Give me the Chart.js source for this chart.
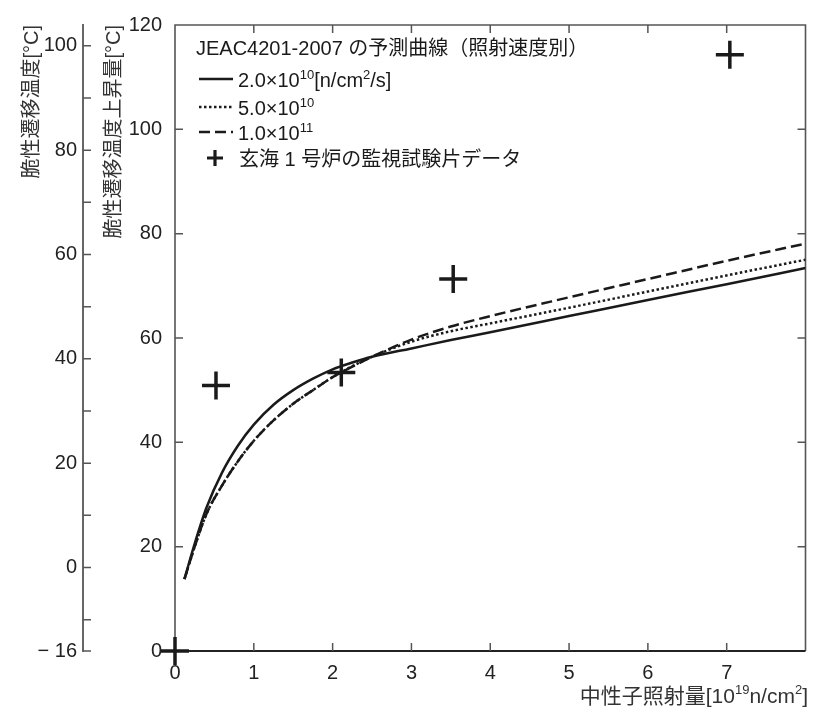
<!DOCTYPE html>
<html><head><meta charset="utf-8">
<script src="https://cdn.jsdelivr.net/npm/chart.js@4.4.1/dist/chart.umd.min.js"></script>
<style>html,body{margin:0;padding:0;background:#fff}#wrap{width:823px;height:715px}</style>
</head><body><div id="wrap"><canvas id="c" width="823" height="715"></canvas></div>
<script>
// ---- data ----
const fluenceCurve = [0.12,0.25,0.4,0.6,0.8,1.0,1.25,1.5,1.75,2.0,2.25,2.5,3.0,3.5,4,5,6,7,8];
const rise2e10 = [13.8,20.6,27.5,34.3,39.4,43.4,47.2,50.0,52.2,54.0,55.3,56.4,58.0,59.6,61.1,64.2,67.3,70.3,73.4];
const rise5e10 = [13.8,20.0,26.3,31.8,36.4,40.3,44.2,47.4,50.0,52.5,54.6,56.4,59.3,61.3,62.8,65.8,68.9,72.0,75.0];
const rise1e11 = [13.8,20.0,26.3,31.8,36.4,40.3,44.2,47.4,50.0,52.5,54.5,56.4,59.7,62.2,64.2,67.8,71.3,74.8,78.1];
const genkaiFluence = [0, 0.52, 2.11, 3.53, 7.04];
const genkaiRise = [0, 50.9, 53.4, 71.3, 114.3];
const xTicks = [0,1,2,3,4,5,6,7,8];
const xLabels = ['0','1','2','3','4','5','6','7',''];
const riseTicks = [0,20,40,60,80,100,120];
const tempTicks = [-16,-10,0,10,20,30,40,50,60,70,80,90,100];
const tempLabels = ['\u2212 16','','0','','20','','40','','60','','80','','100'];

const FONT = '"Liberation Sans", "Noto Sans CJK JP", sans-serif';
const INK = '#1a1a1a';
const pts = (xs, ys) => xs.map((x, i) => ({x: x, y: ys[i]}));

function drawRich(ctx, x, y, parts, size) {
  for (const p of parts) {
    const s = p.sup ? Math.round(size * 0.64) : size;
    ctx.font = s + 'px ' + FONT;
    ctx.fillText(p.t, x, p.sup ? y - size * 0.42 : y);
    x += ctx.measureText(p.t).width;
  }
  return x;
}
function richWidth(ctx, parts, size) {
  let w = 0;
  for (const p of parts) {
    const s = p.sup ? Math.round(size * 0.64) : size;
    ctx.font = s + 'px ' + FONT;
    w += ctx.measureText(p.t).width;
  }
  return w;
}

const decor = {
  id: 'decor',
  beforeDatasetsDraw(chart) {
    const ctx = chart.ctx, a = chart.chartArea;
    const sx = chart.scales.x, sy = chart.scales.y, st = chart.scales.yTemp;
    ctx.save();
    ctx.lineCap = 'butt';
    ctx.strokeStyle = '#555'; ctx.lineWidth = 1.6;
    ctx.beginPath();
    ctx.moveTo(a.left, a.bottom); ctx.lineTo(a.left, a.top); ctx.lineTo(a.right, a.top); ctx.lineTo(a.right, a.bottom);
    ctx.stroke();
    ctx.strokeStyle = '#222'; ctx.lineWidth = 2;
    ctx.beginPath(); ctx.moveTo(a.left, a.bottom); ctx.lineTo(a.right, a.bottom); ctx.stroke();
    ctx.strokeStyle = '#555'; ctx.lineWidth = 1.5;
    ctx.beginPath();
    for (const t of sy.ticks) {
      if (t.value === 0 || t.value === 120) continue;
      const y = sy.getPixelForValue(t.value);
      ctx.moveTo(a.left, y); ctx.lineTo(a.left + 8, y);
      ctx.moveTo(a.right, y); ctx.lineTo(a.right - 8, y);
    }
    for (const t of sx.ticks) {
      if (t.value === 0 || t.value === 8) continue;
      const x = sx.getPixelForValue(t.value);
      ctx.moveTo(x, a.bottom); ctx.lineTo(x, a.bottom - 8);
      ctx.moveTo(x, a.top); ctx.lineTo(x, a.top + 8);
    }
    for (const t of st.ticks) {
      const y = st.getPixelForValue(t.value);
      ctx.moveTo(st.right, y); ctx.lineTo(st.right + 8, y);
    }
    ctx.stroke();
    ctx.restore();
  },
  afterDraw(chart) {
    const ctx = chart.ctx;
    ctx.save();
    ctx.fillStyle = INK;
    ctx.textAlign = 'left';
    ctx.textBaseline = 'alphabetic';
    const size = 20;
    ctx.font = size + 'px ' + FONT;
    ctx.fillText('JEAC4201-2007 の予測曲線（照射速度別）', 196, 55);
    ctx.strokeStyle = INK; ctx.lineWidth = 2.5;
    const sample = (y, dash) => {
      ctx.setLineDash(dash);
      ctx.beginPath(); ctx.moveTo(199, y); ctx.lineTo(233, y); ctx.stroke();
    };
    sample(79, []);
    sample(107, [2.5, 2.5]);
    sample(132, [11, 5]);
    ctx.setLineDash([]);
    drawRich(ctx, 238, 87, [{t:'2.0×10'},{t:'10',sup:true},{t:'[n/cm'},{t:'2',sup:true},{t:'/s]'}], size);
    drawRich(ctx, 238, 115, [{t:'5.0×10'},{t:'10',sup:true}], size);
    drawRich(ctx, 238, 140, [{t:'1.0×10'},{t:'11',sup:true}], size);
    ctx.lineWidth = 3.2;
    ctx.beginPath();
    ctx.moveTo(207, 158); ctx.lineTo(223, 158);
    ctx.moveTo(215, 150); ctx.lineTo(215, 166);
    ctx.stroke();
    ctx.font = size + 'px ' + FONT;
    ctx.fillText('玄海 1 号炉の監視試験片データ', 239, 166);
    const xt = [{t:'中性子照射量[10'},{t:'19',sup:true},{t:'n/cm'},{t:'2',sup:true},{t:']'}];
    ctx.fillStyle = '#333';
    const w = richWidth(ctx, xt, 21);
    drawRich(ctx, 808 - w, 703, xt, 21);
    ctx.restore();
  }
};

const tickFont = {size: 20, family: FONT};
const curve = (label, ys, dash) => ({label: label, data: pts(fluenceCurve, ys), yAxisID: 'y', xAxisID: 'x',
  borderColor: INK, borderWidth: 2.5, borderDash: dash, pointRadius: 0, cubicInterpolationMode: 'monotone', fill: false});
new Chart(document.getElementById('c'), {
  type: 'line',
  data: {
    datasets: [
      curve('2.0e10', rise2e10, []),
      curve('5.0e10', rise5e10, [2.5, 2.5]),
      curve('1.0e11', rise1e11, [11, 5]),
      {label: 'genkai', data: pts(genkaiFluence, genkaiRise), yAxisID: 'y', xAxisID: 'x', showLine: false,
       pointStyle: 'cross', pointRadius: 14, pointBorderWidth: 3.5, borderColor: INK, backgroundColor: INK, clip: false}
    ]
  },
  options: {
    responsive: false,
    devicePixelRatio: 1,
    animation: false,
    layout: {padding: {top: 17, right: 13, left: 0, bottom: 0}},
    plugins: {legend: {display: false}, tooltip: {enabled: false}},
    scales: {
      x: {
        type: 'linear', min: 0, max: 8,
        afterBuildTicks: s => { s.ticks = xTicks.map(v => ({value: v})); },
        ticks: {font: tickFont, color: '#222', padding: 10, maxRotation: 0, autoSkip: false,
                callback: v => xLabels[xTicks.indexOf(v)]},
        grid: {display: false, drawTicks: false}, border: {display: false},
        afterFit: s => { s.height = 64; }
      },
      yTemp: {
        type: 'linear', position: 'left', min: -16, max: 104, weight: 10,
        afterBuildTicks: s => { s.ticks = tempTicks.map(v => ({value: v})); },
        ticks: {font: tickFont, color: '#222', padding: 6, autoSkip: false,
                callback: v => tempLabels[tempTicks.indexOf(v)]},
        grid: {display: false, drawTicks: false}, border: {display: true, color: '#666', width: 2},
        title: {display: true, text: '脆性遷移温度[°C]', align: 'end', color: '#333',
                font: {size: 20, family: FONT}, padding: {top: 20, bottom: 0}},
        afterFit: s => { s.width = 83; }
      },
      y: {
        type: 'linear', position: 'left', min: 0, max: 120, weight: 0,
        afterBuildTicks: s => { s.ticks = riseTicks.map(v => ({value: v})); },
        ticks: {font: tickFont, color: '#222', padding: 13, autoSkip: false},
        grid: {display: false, drawTicks: false}, border: {display: false},
        title: {display: true, text: '脆性遷移温度上昇量[°C]', align: 'end', color: '#333',
                font: {size: 20, family: FONT}, padding: {top: 19, bottom: 0}},
        afterFit: s => { s.width = 92; }
      }
    }
  },
  plugins: [decor]
});
</script></body></html>
